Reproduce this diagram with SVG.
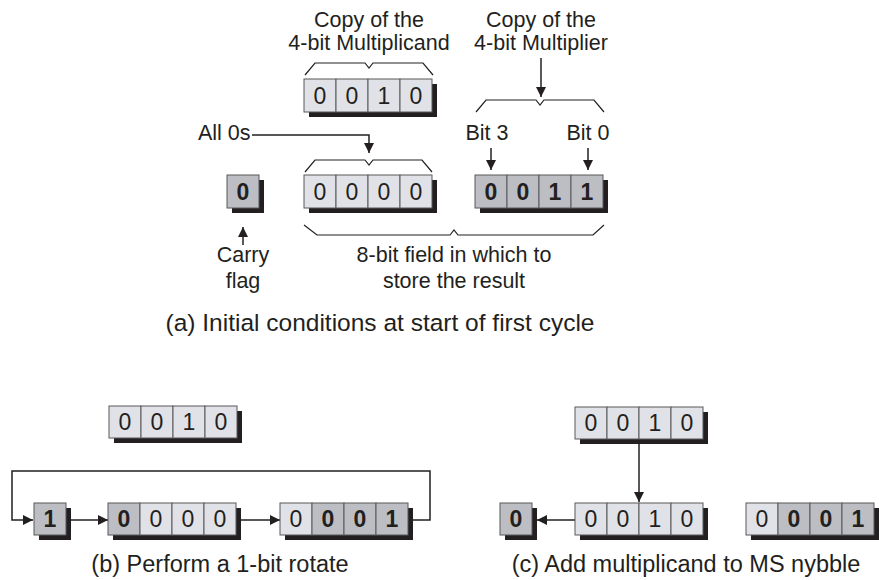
<svg xmlns="http://www.w3.org/2000/svg" width="879" height="580" viewBox="0 0 879 580">
<style>
.sh{fill:#231f20}
.c{fill:#e1e2e7;stroke:#58595b;stroke-width:1}
.d{fill:#bcbec3;stroke:#58595b;stroke-width:1}
.n{font-family:"Liberation Sans",Arial,sans-serif;font-size:23px;text-anchor:middle;fill:#231f20}
.b{font-weight:bold}
.t{font-family:"Liberation Sans",Arial,sans-serif;font-size:21.5px;text-anchor:middle;fill:#231f20}
.cap{font-size:23.5px}
.capa{font-size:24.5px}
.ln{fill:none;stroke:#231f20;stroke-width:1.5}
.br{fill:none;stroke:#231f20;stroke-width:1.2}
</style>
<defs>
<marker id="ah" markerUnits="userSpaceOnUse" markerWidth="11" markerHeight="11" refX="10" refY="5" orient="auto">
<path d="M0,0 L10,5 L0,10 z" fill="#231f20"/>
</marker>
</defs>
<rect width="879" height="580" fill="#ffffff"/>

<g id="connectors">
<path class="ln" d="M541,58 V97" marker-end="url(#ah)"/>
<path class="ln" d="M252,135 H369 V153" marker-end="url(#ah)"/>
<path class="ln" d="M491,148 V170" marker-end="url(#ah)"/>
<path class="ln" d="M588,148 V170" marker-end="url(#ah)"/>
<path class="ln" d="M243,245 V227" marker-end="url(#ah)"/>
<path class="ln" d="M413,520 H430 V471 H12 V520 H33" marker-end="url(#ah)"/>
<path class="ln" d="M71,520 H108" marker-end="url(#ah)"/>
<path class="ln" d="M241,520 H280" marker-end="url(#ah)"/>
<path class="ln" d="M639,444 V502" marker-end="url(#ah)"/>
<path class="ln" d="M575,520 H537" marker-end="url(#ah)"/>
</g>

<g id="braces">
<path class="br" d="M305,75 L315,63 H365 L369,68 L373,63 H423 L433,75"/>
<path class="br" d="M305,172 L315,160 H365 L369,165 L373,160 H422 L432,172"/>
<path class="br" d="M476,112 L486,100 H536 L540,105 L544,100 H594 L604,112"/>
<path class="br" d="M304,225 L317,235 H450 L454,230 L458,235 H593 L604,225"/>
</g>

<g id="multiplicand-a">
<rect class="sh" x="309" y="84" width="128" height="33"/>
<rect class="c" x="304" y="79" width="32" height="33"/><rect class="c" x="336" y="79" width="32" height="33"/><rect class="c" x="368" y="79" width="32" height="33"/><rect class="c" x="400" y="79" width="32" height="33"/>
<text class="n" x="320" y="104">0</text><text class="n" x="352" y="104">0</text><text class="n" x="384" y="104">1</text><text class="n" x="416" y="104">0</text>
</g>

<g id="zeros-a">
<rect class="sh" x="309" y="180" width="128" height="33"/>
<rect class="c" x="304" y="175" width="32" height="33"/><rect class="c" x="336" y="175" width="32" height="33"/><rect class="c" x="368" y="175" width="32" height="33"/><rect class="c" x="400" y="175" width="32" height="33"/>
<text class="n" x="320" y="200">0</text><text class="n" x="352" y="200">0</text><text class="n" x="384" y="200">0</text><text class="n" x="416" y="200">0</text>
</g>

<g id="multiplier-a">
<rect class="sh" x="480" y="180" width="128" height="33"/>
<rect class="d" x="475" y="175" width="32" height="33"/><rect class="d" x="507" y="175" width="32" height="33"/><rect class="d" x="539" y="175" width="32" height="33"/><rect class="d" x="571" y="175" width="32" height="33"/>
<text class="n b" x="491" y="200">0</text><text class="n b" x="523" y="200">0</text><text class="n b" x="555" y="200">1</text><text class="n b" x="587" y="200">1</text>
</g>

<g id="carry-a">
<rect class="sh" x="232" y="180" width="32" height="33"/>
<rect class="d" x="227" y="175" width="32" height="33"/>
<text class="n b" x="243" y="200">0</text>
</g>

<g id="labels-a">
<text class="t" x="369" y="27">Copy of the</text>
<text class="t" x="369" y="50">4-bit Multiplicand</text>
<text class="t" x="541" y="27">Copy of the</text>
<text class="t" x="541" y="50">4-bit Multiplier</text>
<text class="t" x="198" y="140" style="text-anchor:start">All 0s</text>
<text class="t" x="487" y="140">Bit 3</text>
<text class="t" x="588" y="140">Bit 0</text>
<text class="t" x="243" y="262">Carry</text>
<text class="t" x="243" y="288">flag</text>
<text class="t" x="454" y="262">8-bit field in which to</text>
<text class="t" x="454" y="288">store the result</text>
<text class="t capa" x="380" y="331">(a) Initial conditions at start of first cycle</text>
</g>

<g id="multiplicand-b">
<rect class="sh" x="114" y="411" width="128" height="32"/>
<rect class="c" x="109" y="406" width="32" height="32"/><rect class="c" x="141" y="406" width="32" height="32"/><rect class="c" x="173" y="406" width="32" height="32"/><rect class="c" x="205" y="406" width="32" height="32"/>
<text class="n" x="125" y="430">0</text><text class="n" x="157" y="430">0</text><text class="n" x="189" y="430">1</text><text class="n" x="221" y="430">0</text>
</g>

<g id="carry-b">
<rect class="sh" x="39" y="508" width="32" height="32"/>
<rect class="d" x="34" y="503" width="32" height="32"/>
<text class="n b" x="50" y="527">1</text>
</g>

<g id="ms-b">
<rect class="sh" x="113" y="508" width="128" height="32"/>
<rect class="d" x="108" y="503" width="32" height="32"/><rect class="c" x="140" y="503" width="32" height="32"/><rect class="c" x="172" y="503" width="32" height="32"/><rect class="c" x="204" y="503" width="32" height="32"/>
<text class="n b" x="124" y="527">0</text><text class="n" x="156" y="527">0</text><text class="n" x="188" y="527">0</text><text class="n" x="220" y="527">0</text>
</g>

<g id="ls-b">
<rect class="sh" x="285" y="508" width="128" height="32"/>
<rect class="c" x="280" y="503" width="32" height="32"/><rect class="d" x="312" y="503" width="32" height="32"/><rect class="d" x="344" y="503" width="32" height="32"/><rect class="d" x="376" y="503" width="32" height="32"/>
<text class="n" x="296" y="527">0</text><text class="n b" x="328" y="527">0</text><text class="n b" x="360" y="527">0</text><text class="n b" x="392" y="527">1</text>
</g>

<g id="multiplicand-c">
<rect class="sh" x="580" y="412" width="128" height="32"/>
<rect class="c" x="575" y="407" width="32" height="32"/><rect class="c" x="607" y="407" width="32" height="32"/><rect class="c" x="639" y="407" width="32" height="32"/><rect class="c" x="671" y="407" width="32" height="32"/>
<text class="n" x="591" y="431">0</text><text class="n" x="623" y="431">0</text><text class="n" x="655" y="431">1</text><text class="n" x="687" y="431">0</text>
</g>

<g id="carry-c">
<rect class="sh" x="505" y="508" width="32" height="32"/>
<rect class="d" x="500" y="503" width="32" height="32"/>
<text class="n b" x="516" y="527">0</text>
</g>

<g id="ms-c">
<rect class="sh" x="580" y="508" width="128" height="32"/>
<rect class="c" x="575" y="503" width="32" height="32"/><rect class="c" x="607" y="503" width="32" height="32"/><rect class="c" x="639" y="503" width="32" height="32"/><rect class="c" x="671" y="503" width="32" height="32"/>
<text class="n" x="591" y="527">0</text><text class="n" x="623" y="527">0</text><text class="n" x="655" y="527">1</text><text class="n" x="687" y="527">0</text>
</g>

<g id="ls-c">
<rect class="sh" x="751" y="508" width="128" height="32"/>
<rect class="c" x="746" y="503" width="32" height="32"/><rect class="d" x="778" y="503" width="32" height="32"/><rect class="d" x="810" y="503" width="32" height="32"/><rect class="d" x="842" y="503" width="32" height="32"/>
<text class="n" x="762" y="527">0</text><text class="n b" x="794" y="527">0</text><text class="n b" x="826" y="527">0</text><text class="n b" x="858" y="527">1</text>
</g>

<g id="labels-bc">
<text class="t cap" x="220" y="572">(b) Perform a 1-bit rotate</text>
<text class="t cap" x="686" y="572">(c) Add multiplicand to MS nybble</text>
</g>
</svg>
